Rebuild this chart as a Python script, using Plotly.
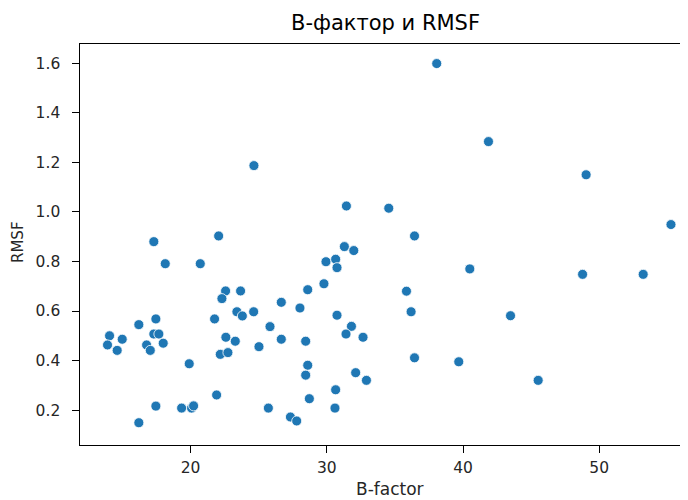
import plotly.graph_objects as go

title_text = "B-фактор и RMSF"
x_label = "B-factor"
y_label = "RMSF"

b_factor = [17.30, 22.06, 18.14, 20.71, 22.57, 23.67, 22.30, 26.66, 23.40, 23.80,
            24.63, 17.45, 21.76, 16.20, 25.83, 14.05, 14.98, 13.90, 14.61, 17.30,
            17.67, 16.77, 17.04, 17.99, 22.59, 23.28, 26.66, 25.02, 22.18, 22.74,
            19.90, 21.91, 17.45, 19.34, 20.07, 20.22, 25.71, 16.20,
            36.44, 31.29, 31.98, 29.94, 30.65, 30.75, 40.50, 29.79, 28.60, 35.85,
            28.03, 36.19, 30.75, 31.81, 31.41, 32.66, 28.45, 36.44, 39.69, 28.60,
            28.45, 32.12, 32.91, 30.65, 28.72, 30.60, 27.33, 27.79,
            38.07, 41.87, 31.44, 34.55, 24.65, 49.04, 55.27, 48.78, 53.23, 43.49, 45.52]

rmsf = [0.880, 0.903, 0.791, 0.791, 0.681, 0.681, 0.650, 0.635, 0.597, 0.580,
        0.597, 0.568, 0.568, 0.545, 0.537, 0.500, 0.486, 0.463, 0.441, 0.507,
        0.507, 0.463, 0.441, 0.470, 0.494, 0.478, 0.486, 0.456, 0.425, 0.432,
        0.387, 0.261, 0.216, 0.208, 0.208, 0.217, 0.208, 0.149,
        0.903, 0.860, 0.844, 0.799, 0.809, 0.775, 0.770, 0.710, 0.686, 0.680,
        0.612, 0.597, 0.583, 0.538, 0.507, 0.494, 0.478, 0.411, 0.395, 0.381,
        0.341, 0.351, 0.320, 0.282, 0.246, 0.208, 0.172, 0.156,
        1.599, 1.284, 1.024, 1.015, 1.187, 1.150, 0.949, 0.748, 0.748, 0.581, 0.320]

x_ticks = [20, 30, 40, 50]
y_ticks = [0.2, 0.4, 0.6, 0.8, 1.0, 1.2, 1.4, 1.6]

FONT = "DejaVu Sans"
TXT = "#262626"

# The page body has an 8px default margin, so the figure is offset by 8px.
fig = go.Figure()
fig.add_trace(go.Scatter(
    x=b_factor, y=rmsf, mode="markers",
    marker=dict(color="#1f77b4", size=10, line=dict(color="white", width=0.8)),
    hoverinfo="x+y", showlegend=False,
))

axis_common = dict(
    showgrid=False, zeroline=False, showline=True, linecolor="#000000", linewidth=1.3,
    ticks="outside", ticklen=6.5, tickwidth=1.1, tickcolor="#000000",
    tickfont=dict(family=FONT, size=15.5, color=TXT),
)

fig.update_layout(
    width=680, height=492,
    margin=dict(l=72, r=0, t=36, b=55),
    paper_bgcolor="white", plot_bgcolor="white",
    font=dict(family=FONT, color=TXT),
    xaxis=dict(range=[11.88, 56.52], tickvals=x_ticks, mirror=True,
               ticklabelstandoff=2, **axis_common),
    yaxis=dict(range=[0.059, 1.678], tickvals=y_ticks, tickformat=".1f", mirror=False,
               ticklabelstandoff=9, **axis_common),
    annotations=[
        dict(text=title_text, xref="paper", yref="paper", x=(385.5 - 80) / 608, y=1,
             yshift=21, xanchor="center", yanchor="middle", showarrow=False,
             font=dict(family=FONT, size=21, color="#000000")),
        dict(text=x_label, xref="paper", yref="paper", x=(390 - 80) / 608, y=0,
             yshift=-44, xanchor="center", yanchor="middle", showarrow=False,
             font=dict(family=FONT, size=17, color=TXT)),
        dict(text=y_label, xref="paper", yref="paper", x=0, y=(445 - 242) / 401, xshift=-62,
             textangle=-90, xanchor="center", yanchor="middle", showarrow=False,
             font=dict(family=FONT, size=15, color=TXT)),
    ],
)

fig.write_html("out.html")
